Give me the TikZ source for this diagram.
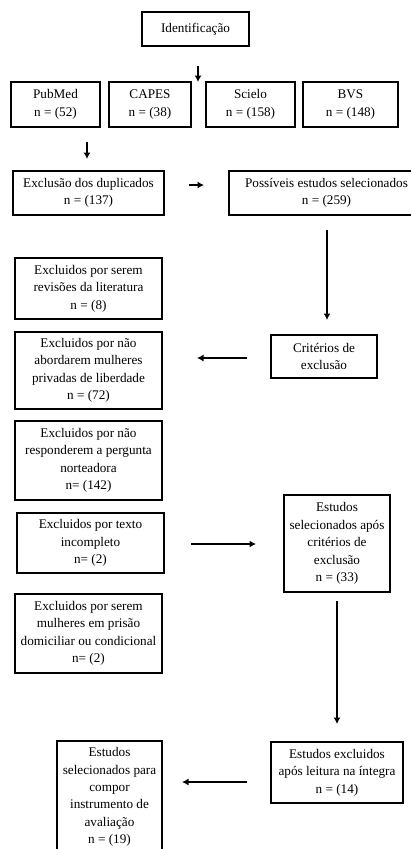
\documentclass[tikz,border=0pt]{standalone}
\usepackage{fontspec}
\setmainfont{Liberation Serif}
\usetikzlibrary{arrows.meta}
\begin{document}
\begin{tikzpicture}[x=1pt,y=-1pt,
  box/.style={draw=black,line width=1.8pt,rectangle,align=center,inner sep=1pt,
    font=\fontsize{13.2}{17.4}\selectfont,text=black},
  arr/.style={line width=1.8pt,-{Latex[length=6.5pt,width=7pt]}}]
\useasboundingbox (0,0) rectangle (410,849);
% boxes
\node[box,minimum width=107pt,minimum height=34pt] (ident) at (195.5,29) {Identificação};
\node[box,minimum width=89pt,minimum height=45pt] (pub) at (55.5,104.5) {PubMed\\n = (52)};
\node[box,minimum width=82pt,minimum height=45pt] (capes) at (150,104.5) {CAPES\\n = (38)};
\node[box,minimum width=89pt,minimum height=45pt] (scielo) at (250.5,104.5) {Scielo\\n = (158)};
\node[box,minimum width=95pt,minimum height=45pt] (bvs) at (350.5,104.5) {BVS\\n = (148)};
\node[box,minimum width=151pt,minimum height=44pt] (dup) at (88.5,193) {Exclusão dos duplicados\\n = (137)};
\node[box,minimum width=195pt,minimum height=44pt] (poss) at (326.5,193) {Possíveis estudos selecionados\\n = (259)};
\node[box,minimum width=147pt,minimum height=61pt] (rev) at (88.5,288.5) {Excluidos por serem\\revisões da literatura\\n = (8)};
\node[box,minimum width=147pt,minimum height=77pt] (abord) at (88.5,370.5) {Excluidos por não\\abordarem mulheres\\privadas de liberdade\\n = (72)};
\node[box,minimum width=106pt,minimum height=43pt] (crit) at (324,356.5) {Critérios de\\exclusão};
\node[box,minimum width=147pt,minimum height=79pt] (resp) at (88.5,460.5) {Excluidos por não\\responderem a pergunta\\norteadora\\n= (142)};
\node[box,minimum width=147pt,minimum height=60pt] (texto) at (90.5,543) {Excluidos por texto\\incompleto\\n= (2)};
\node[box,minimum width=106pt,minimum height=97pt] (estsel) at (337,543.5) {Estudos\\selecionados após\\critérios de\\exclusão\\n = (33)};
\node[box,minimum width=147pt,minimum height=79pt] (mulh) at (88.5,633.5) {Excluidos por serem\\mulheres em prisão\\domiciliar ou condicional\\n= (2)};
\node[box,minimum width=132pt,minimum height=61pt] (estexc) at (337,772.5) {Estudos excluidos\\após leitura na íntegra\\n = (14)};
\node[box,minimum width=105pt,minimum height=112pt] (final) at (109.5,797) {Estudos\\selecionados para\\compor\\instrumento de\\avaliação\\n = (19)};
% arrow end points
\coordinate (a1s) at (198,66);  \coordinate (a1e) at (198,82);
\coordinate (a2s) at (87,142);  \coordinate (a2e) at (87,159);
\coordinate (a3s) at (189,185); \coordinate (a3e) at (204,185);
\coordinate (a4s) at (327,230); \coordinate (a4e) at (327,320);
\coordinate (a5s) at (247,358); \coordinate (a5e) at (197,358);
\coordinate (a6s) at (191,544); \coordinate (a6e) at (256,544);
\coordinate (a7s) at (337,601); \coordinate (a7e) at (337,724);
\coordinate (a8s) at (247,782); \coordinate (a8e) at (182,782);
\draw[arr] (a1s) -- (a1e);
\draw[arr] (a2s) -- (a2e);
\draw[arr] (a3s) -- (a3e);
\draw[arr] (a4s) -- (a4e);
\draw[arr] (a5s) -- (a5e);
\draw[arr] (a6s) -- (a6e);
\draw[arr] (a7s) -- (a7e);
\draw[arr] (a8s) -- (a8e);
\end{tikzpicture}
\end{document}
